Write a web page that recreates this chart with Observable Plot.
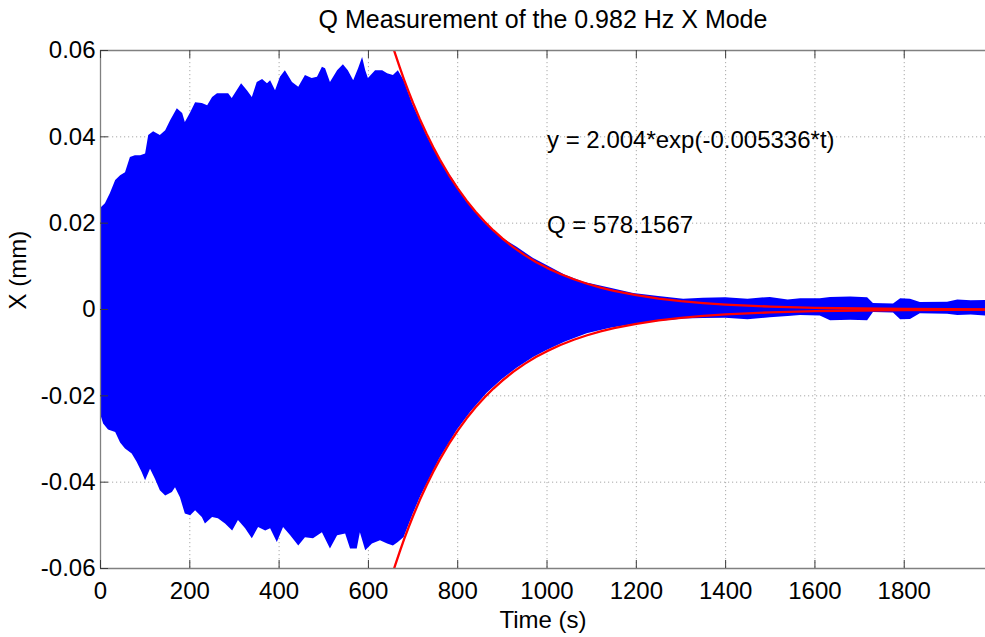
<!DOCTYPE html>
<html><head><meta charset="utf-8">
<script src="https://cdn.jsdelivr.net/npm/d3@7"></script>
<script src="https://cdn.jsdelivr.net/npm/@observablehq/plot@0.6"></script>
<style>html,body{margin:0;padding:0;background:#fff;}</style>
</head><body><div id="chart"></div>
<script>
// ---- data ----
const titleText = "Q Measurement of the 0.982 Hz X Mode";
const xLabel = "Time (s)";
const yLabel = "X (mm)";
const fitLabel = "y = 2.004*exp(-0.005336*t)";
const qLabel = "Q = 578.1567";

const xTicks = [0, 200, 400, 600, 800, 1000, 1200, 1400, 1600, 1800];
const yTicks = [-0.06, -0.04, -0.02, 0, 0.02, 0.04, 0.06];

// upper envelope of the oscillation (time s, displacement mm)
const upperT = [0,11,22,34,45,56,67,78,90,101,108,119,134,146,157,172,184,190,202,213,228,240,251,262,276,287,295,306,316,329,340,351,363,374,381,392,403,414,430,444,459,474,486,497,504,515,531,544,555,567,578,587,594,600,616,632,643,656,667,680,700,732,760,791,820,858,900,933,970,1000,1040,1082,1140,1194,1250,1306,1350,1400,1450,1500,1540,1568,1612,1635,1680,1718,1731,1776,1792,1814,1836,1897,1920,1950,1982];
const upperV = [0.0234,0.0245,0.0268,0.0299,0.031,0.0317,0.0352,0.0356,0.0356,0.036,0.0403,0.0412,0.0403,0.0414,0.0437,0.0465,0.0454,0.0433,0.0456,0.0479,0.0477,0.0472,0.0491,0.05,0.05,0.05,0.0489,0.0507,0.0523,0.0507,0.0491,0.0526,0.0533,0.0523,0.053,0.0507,0.0538,0.0553,0.0526,0.0515,0.0542,0.0535,0.0538,0.0561,0.0558,0.0526,0.0553,0.0567,0.0553,0.053,0.0558,0.0584,0.0553,0.0535,0.0553,0.0553,0.0546,0.0542,0.0553,0.053,0.0474,0.0401,0.0346,0.0299,0.0250,0.0203,0.0165,0.0144,0.0118,0.0102,0.008,0.0063,0.005,0.0037,0.003,0.0024,0.0026,0.0027,0.0024,0.0028,0.0022,0.0025,0.0025,0.0028,0.0029,0.0027,0.0014,0.0013,0.0025,0.0024,0.0016,0.0017,0.0022,0.002,0.0021];

// lower envelope of the oscillation
const lowerT = [0,7,18,34,45,56,71,82,93,101,112,123,134,146,161,168,179,190,202,213,228,235,251,264,280,296,309,325,340,354,370,381,396,410,426,444,459,477,497,515,531,549,560,575,582,594,609,627,643,656,667,680,700,717,760,799,830,866,900,933,970,1000,1040,1090,1140,1194,1250,1306,1350,1400,1450,1500,1540,1568,1612,1635,1680,1718,1731,1776,1792,1814,1836,1897,1920,1950,1982];
const lowerV = [-0.0242,-0.0265,-0.0279,-0.0285,-0.0309,-0.0323,-0.0335,-0.0354,-0.0377,-0.0397,-0.037,-0.0393,-0.042,-0.0432,-0.0424,-0.0413,-0.0436,-0.0474,-0.0478,-0.0466,-0.0482,-0.0497,-0.0482,-0.0485,-0.0497,-0.0513,-0.0489,-0.0508,-0.0531,-0.0505,-0.0513,-0.0508,-0.054,-0.0505,-0.0524,-0.0548,-0.0529,-0.0531,-0.0517,-0.0555,-0.0524,-0.052,-0.0555,-0.0555,-0.0517,-0.0559,-0.0543,-0.0536,-0.0543,-0.0548,-0.054,-0.0528,-0.0475,-0.0434,-0.0346,-0.0280,-0.0237,-0.0194,-0.0162,-0.0136,-0.0111,-0.0095,-0.0076,-0.0056,-0.0044,-0.0035,-0.0028,-0.0022,-0.0021,-0.002,-0.0024,-0.0019,-0.0016,-0.0014,-0.0015,-0.0026,-0.0025,-0.0026,-0.0007,-0.0008,-0.0024,-0.0023,-0.001,-0.0011,-0.0014,-0.0013,-0.0015];

// exponential fit shown in the chart: y = A*exp(-k*t)
const fitA = 2.004;
const fitK = 0.005336;
const fitT = [650,660,670,680,690,700,715,730,745,760,780,800,820,840,860,880,900,925,950,975,1000,1030,1060,1090,1120,1150,1200,1250,1300,1350,1400,1500,1600,1700,1800,1900,1982];

// ---- build tables ----
const upper = upperT.map((t, i) => ({t, v: upperV[i]}));
const lower = lowerT.map((t, i) => ({t, v: lowerV[i]}));
const fitUp = fitT.map(t => ({t, v: fitA * Math.exp(-fitK * t)}));
const fitLo = fitT.map(t => ({t, v: -fitA * Math.exp(-fitK * t)}));

const W = 985, H = 637, mL = 100, mR = 0, mT = 50, mB = 69;
const frameW = W - mL - mR, frameH = H - mT - mB;
const font = "'Liberation Sans', Arial, Helvetica, sans-serif";
const gridC = "#a8a8a8";
const axisC = "#808080";
const tickC = "#3a3a3a";
const fmtY = d => d === 0 ? "0" : (d < 0 ? "-" : "") + Math.abs(d).toFixed(2);
const fmtX = d => String(d);

const chart = Plot.plot({
  width: W, height: H,
  marginLeft: mL, marginRight: mR, marginTop: mT, marginBottom: mB,
  style: {fontFamily: font, fontSize: "24px", background: "#fff", overflow: "visible", color: "#000"},
  x: {domain: [0, 1982], label: null},
  y: {domain: [-0.06, 0.06], label: null},
  marks: [
    // dotted grid below the data
    Plot.ruleX(xTicks.filter(d => d > 0), {stroke: gridC, strokeDasharray: "1.2,2.8", strokeWidth: 1}),
    Plot.ruleY(yTicks.filter(d => d > -0.06 && d < 0.06), {stroke: gridC, strokeDasharray: "1.2,2.8", strokeWidth: 1}),
    // oscillation envelope
    Plot.areaY(upper, {x: "t", y1: 0, y2: "v", fill: "#0000ff", curve: "linear"}),
    Plot.areaY(lower, {x: "t", y1: 0, y2: "v", fill: "#0000ff", curve: "linear"}),
    // fit
    Plot.line(fitUp, {x: "t", y: "v", stroke: "#ff0000", strokeWidth: 2.3, clip: true}),
    Plot.line(fitLo, {x: "t", y: "v", stroke: "#ff0000", strokeWidth: 2.3, clip: true}),
    // axes box lines
    Plot.ruleY([-0.06, 0.06], {stroke: axisC, strokeWidth: 1.3}),
    Plot.ruleX([0], {stroke: axisC, strokeWidth: 1.3}),
    // inward ticks
    Plot.ruleX(xTicks, {stroke: tickC, insetTop: frameH - 8}),
    Plot.ruleX(xTicks, {stroke: tickC, insetBottom: frameH - 8}),
    Plot.ruleY(yTicks, {stroke: tickC, insetRight: frameW - 8}),
    // tick labels
    Plot.axisX({ticks: xTicks, tickSize: 0, tickPadding: 13, fontSize: 24, tickFormat: fmtX, label: null}),
    Plot.axisY({ticks: yTicks, tickSize: 0, tickPadding: 5, fontSize: 24, tickFormat: fmtY, label: null}),
    // annotations
    Plot.text([fitLabel], {x: 1000, y: 0.0391, text: d => d, textAnchor: "start", lineAnchor: "middle", fontSize: 24}),
    Plot.text([qLabel], {x: 1000, y: 0.0194, text: d => d, textAnchor: "start", lineAnchor: "middle", fontSize: 24}),
    // titles
    Plot.text([titleText], {frameAnchor: "top", text: d => d, dy: -31, lineAnchor: "middle", fontSize: 25}),
    Plot.text([xLabel], {frameAnchor: "bottom", text: d => d, dy: 52, lineAnchor: "middle", fontSize: 24}),
    Plot.text([yLabel], {frameAnchor: "left", text: d => d, dx: -82, rotate: -90, lineAnchor: "middle", fontSize: 24})
  ]
});
document.getElementById("chart").appendChild(chart);
</script>
</body></html>
